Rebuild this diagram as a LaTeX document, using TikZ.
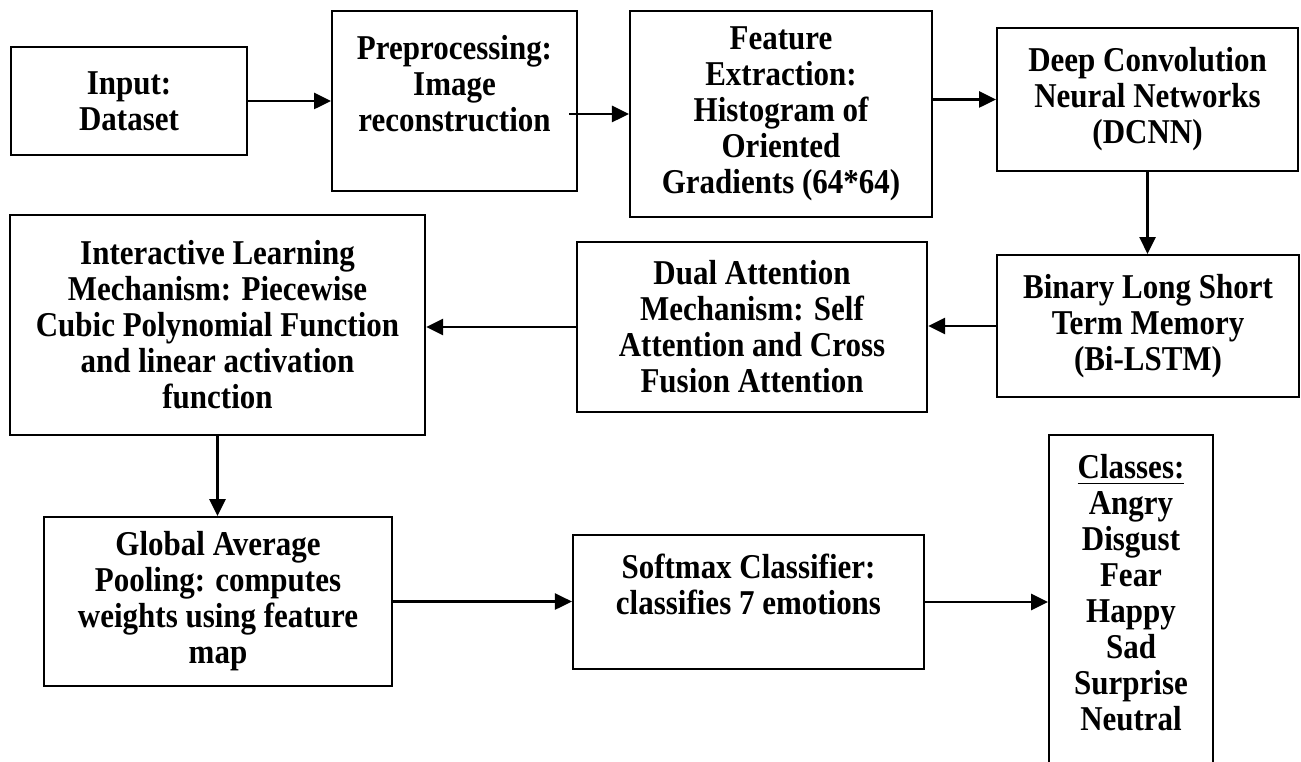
\documentclass[tikz,border=0pt]{standalone}
\usepackage{fontspec}
\setmainfont{Liberation Serif}[FakeStretch=0.89]
\usetikzlibrary{arrows.meta}

\begin{document}
\begin{tikzpicture}[x=0.01cm,y=-0.01cm,
  blk/.style={draw=black,line width=0.6pt,align=center,inner sep=0pt,
    font=\fontsize{9.9pt}{10.25pt}\selectfont\bfseries},
  flow/.style={line width=0.6pt,-{Triangle[length=4.8pt,width=4.6pt]}}]
\useasboundingbox (0,0) rectangle (1301,761);
\clip (0,0) rectangle (1301,761);
\node [blk,minimum width=2.36cm,minimum height=1.08cm] (inp) at (129,101) {Input:\\Dataset};
\node [blk,minimum width=2.45cm,minimum height=1.80cm] (pre) at (454.5,101) {Preprocessing:\\Image\\reconstruction\\~};
\node [blk,minimum width=3.02cm,minimum height=2.06cm] (feat) at (781,114) {Feature\\Extraction:\\Histogram of\\Oriented\\Gradients (64*64)};
\node [blk,minimum width=3.01cm,minimum height=1.43cm] (dcnn) at (1147.5,99.5) {Deep Convolution\\Neural Networks\\(DCNN)};
\node [blk,minimum width=3.02cm,minimum height=1.42cm] (lstm) at (1148,326) {Binary Long Short\\Term Memory\\(Bi-LSTM)};
\node [blk,minimum width=3.50cm,minimum height=1.70cm] (dual) at (752,327) {Dual Attention\\Mechanism: Self\\Attention and Cross\\Fusion Attention};
\node [blk,minimum width=4.15cm,minimum height=2.20cm] (ilm) at (217.5,325) {Interactive Learning\\Mechanism: Piecewise\\Cubic Polynomial Function\\and linear activation\\function};
\node [blk,minimum width=3.48cm,minimum height=1.69cm] (gap) at (218,601.5) {Global Average\\Pooling: computes\\weights using feature\\map};
\node [blk,minimum width=3.51cm,minimum height=1.34cm] (soft) at (748.5,602) {Softmax Classifier:\\classifies 7 emotions\\~};
\node [blk,anchor=north,minimum width=1.64cm,minimum height=3.50cm] (cls) at (1131,434) {\underline{Classes:}\\Angry\\Disgust\\Fear\\Happy\\Sad\\Surprise\\Neutral\\~};
\draw [flow] (inp.east) -- (pre.west);
\draw [flow] ([xshift=-0.09cm]pre.east |- feat.west) -- (feat.west);
\draw [flow] (feat.east |- dcnn.west) -- (dcnn.west);
\draw [flow] (dcnn.south) -- (dcnn.south |- lstm.north);
\draw [flow] (lstm.west) -- (lstm.west -| dual.east);
\draw [flow] (dual.west) -- (dual.west -| ilm.east);
\draw [flow] (ilm.south) -- (ilm.south |- gap.north);
\draw [flow] (gap.east) -- (gap.east -| soft.west);
\draw [flow] (soft.east) -- (soft.east -| cls.west);
\end{tikzpicture}
\end{document}
